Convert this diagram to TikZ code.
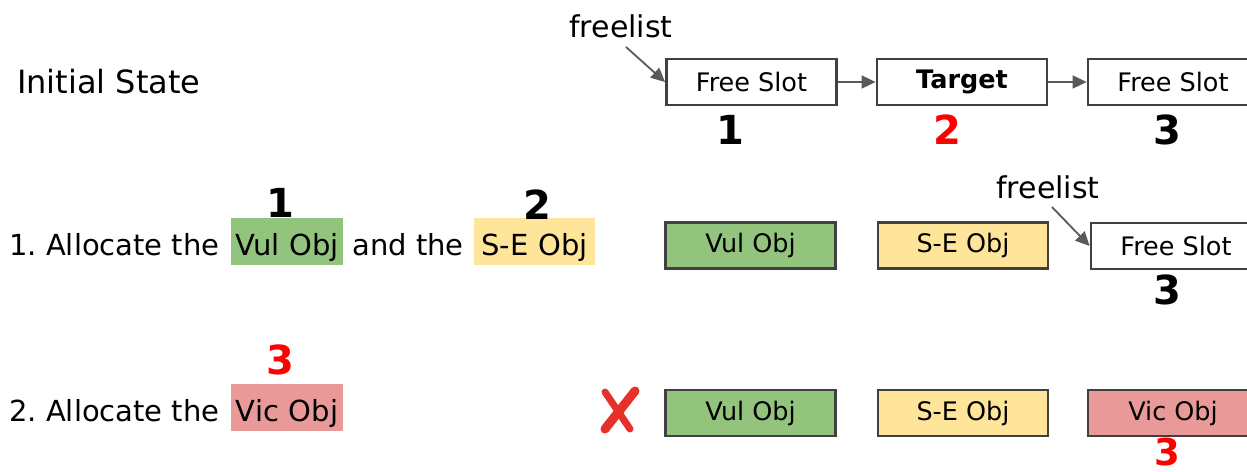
\documentclass[tikz,border=0pt]{standalone}
\usepackage{fontspec}
\setmainfont{DejaVu Sans}
\usetikzlibrary{arrows.meta}
\definecolor{boxline}{HTML}{404040}
\definecolor{arrowgray}{HTML}{595959}
\definecolor{vulgreen}{HTML}{93C47D}
\definecolor{seyellow}{HTML}{FFE599}
\definecolor{vicred}{HTML}{EA9999}
\definecolor{numred}{HTML}{FF0000}
\definecolor{xred}{HTML}{E8302A}
\tikzset{
  slot/.style={draw=boxline, line width=2.8pt, minimum width=170pt, minimum height=46pt,
    inner sep=0pt, font=\fontsize{25.5}{27}\selectfont},
  label/.style={inner sep=0pt, font=\fontsize{29}{31}\selectfont},
  hl/.style={label, text height=37pt, text depth=10pt, align=center},
  num/.style={inner sep=0pt, font=\fontsize{40}{40}\selectfont\bfseries},
  link/.style={draw=arrowgray, line width=1.8pt, -{Triangle[length=14pt,width=13pt]}},
  xstroke/.style={draw=xred, line cap=round},
}
\begin{document}
\frenchspacing
\begin{tikzpicture}[x=1pt, y=-1pt]
\useasboundingbox[fill=white] (0,0) rectangle (1247,471);

% slot boxes on the right run past the edge of the page
\begin{scope}
\clip (0,0) rectangle (1247,471);
\node[slot] (a1) at (751.5,82) {Free Slot};
\node[slot, font=\fontsize{25.5}{27}\selectfont\bfseries] (a2) at (962,82) {Target};
\node[slot] (a3) at (1173,82) {Free Slot};

\node[slot, fill=vulgreen] (b1) at (750.5,245.5) {Vul Obj};
\node[slot, fill=seyellow] (b2) at (963,245.5) {S-E Obj};
\node[slot] (b3) at (1176,246) {Free Slot};

\node[slot, fill=vulgreen] (c1) at (750.5,413) {Vul Obj};
\node[slot, fill=seyellow] (c2) at (963,413) {S-E Obj};
\node[slot, fill=vicred] (c3) at (1173,413) {Vic Obj};
\end{scope}

% ---- Initial state: the freelist chain ----
\node[label, anchor=west, font=\fontsize{32}{34}\selectfont] (init) at (17,82) {Initial State};
\node[num] (n1) at (730,130) {1};
\node[num, text=numred] (n2) at (947,130) {2};
\node[num] (n3) at (1167,130) {3};
\node[label, font=\fontsize{30}{32}\selectfont] (fl0) at (621,26) {freelist};
\coordinate (fl0tail) at (626,47);
\draw[link] (fl0tail) -- (a1.west);
\draw[link] (a1.east) -- (a2.west);
\draw[link] (a2.east) -- (a3.west);

% ---- Step 1: allocate the vulnerable and the S-E objects ----
\node[hl, fill=vulgreen, text width=112pt, anchor=base] (v1) at (287,255) {Vul Obj};
\node[hl, fill=seyellow, text width=121pt, anchor=base] (s1) at (534.5,255) {S-E Obj};
\node[label, anchor=base east] (t1) at ([xshift=-11pt]v1.base west) {1. Allocate the};
\node[label, anchor=base west] (t1b) at ([xshift=9pt]v1.base east) {and the};
\node[num] (m1) at (280,203) {1};
\node[num] (m2) at (537,205) {2};
\node[num] (m3) at (1167,290) {3};
\node[label, font=\fontsize{30}{32}\selectfont] (fl1) at (1048,187) {freelist};
\coordinate (fl1tail) at (1052,207);
\draw[link] (fl1tail) -- (b3.west);

% ---- Step 2: allocate the victim object ----
\node[hl, fill=vicred, text width=112pt, anchor=base] (c0) at (287,421) {Vic Obj};
\node[label, anchor=base east] (t2) at ([xshift=-11pt]c0.base west) {2. Allocate the};
\node[num, text=numred] (k1) at (280,360) {3};
\node[num, text=numred, font=\fontsize{37}{37}\selectfont\bfseries] (k2) at (1167,452) {3};

% red cross mark
\draw[xstroke, line width=7pt] (605,392) -- (630,429);
\draw[xstroke, line width=9pt] (635,391) -- (605,429);
\end{tikzpicture}
\end{document}
